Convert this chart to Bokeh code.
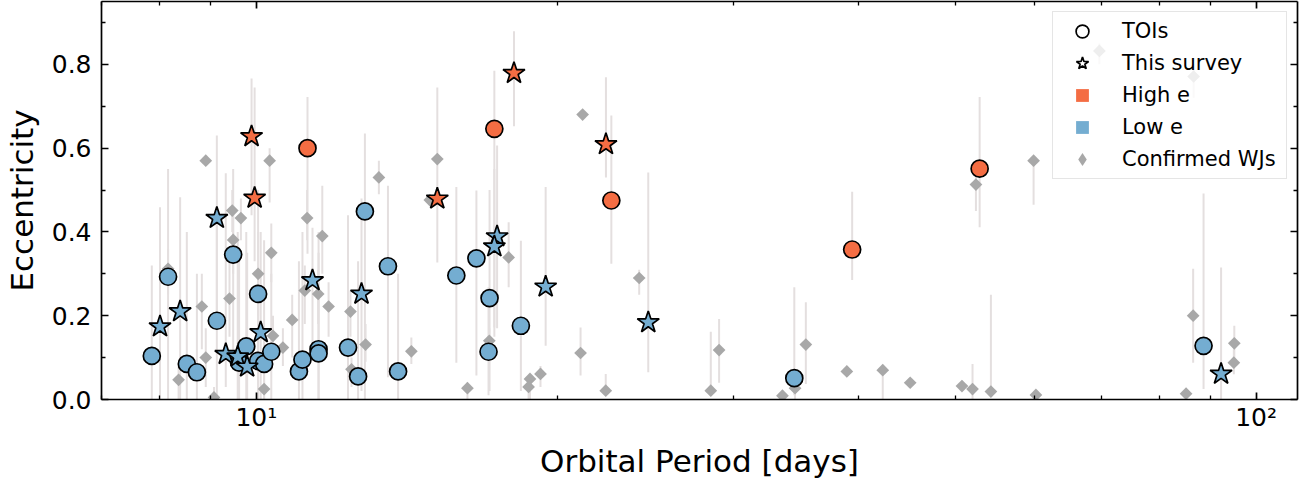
import numpy as np
from bokeh.plotting import figure
from bokeh.models import (LogAxis, LinearAxis, FixedTicker, Legend,
                          LegendItem, CustomJSTickFormatter, Range1d)
from bokeh.embed import file_html
from bokeh.resources import INLINE

# ---------------- data ----------------
# TOIs (circles)
toi_period = [7.86, 8.16, 8.52, 8.72, 9.13, 9.48, 9.77, 9.61, 10.04, 10.04, 10.18, 10.35,
              11.03, 11.12, 11.54, 11.54, 12.35, 12.64, 12.84, 13.54, 13.86, 15.85, 16.60,
              17.11, 17.07, 18.39, 34.52, 88.6,
              11.25, 17.30, 22.65, 39.44, 52.9]
toi_ecc = [0.104, 0.293, 0.085, 0.065, 0.188, 0.346, 0.127, 0.088, 0.252, 0.092, 0.085, 0.114,
           0.067, 0.095, 0.120, 0.110, 0.124, 0.055, 0.449, 0.318, 0.067, 0.296, 0.337,
           0.242, 0.114, 0.176, 0.051, 0.128,
           0.600, 0.646, 0.475, 0.358, 0.551]
toi_lo = [0.0, 0.0, 0.0, 0.0, 0.0, 0.08, 0.0, 0.0, 0.02, 0.0, 0.0, 0.0,
          0.0, 0.0, 0.0, 0.0, 0.0, 0.0, 0.0, 0.053, 0.0, 0.088, 0.057,
          0.02, 0.01, 0.02, 0.01, 0.025,
          0.348, 0.172, 0.324, 0.285, 0.411]
toi_hi = [0.32, 0.55, 0.40, 0.30, 0.45, 0.55, 0.40, 0.35, 0.50, 0.30, 0.38, 0.30,
          0.33, 0.40, 0.40, 0.35, 0.44, 0.33, 0.635, 0.51, 0.30, 0.507, 0.499,
          0.50, 0.268, 0.379, 0.268, 0.492,
          0.722, 0.785, 0.678, 0.496, 0.722]
toi_class = ["low"] * 28 + ["high"] * 5

# This survey (stars)
srv_period = [8.01, 8.39, 9.13, 9.32, 9.58, 9.79, 10.10, 11.38, 12.74, 17.41, 17.30, 19.47,
              24.66, 92.25,
              9.89, 9.96, 15.17, 18.10, 22.37]
srv_ecc = [0.174, 0.210, 0.433, 0.108, 0.102, 0.078, 0.160, 0.284, 0.252, 0.389, 0.365, 0.269,
           0.184, 0.061,
           0.628, 0.481, 0.479, 0.779, 0.609]
srv_lo = [0.0, 0.0, 0.20, 0.03, 0.0, 0.0, 0.0, 0.11, 0.02, 0.17, 0.15, 0.128,
          0.065, 0.0,
          0.44, 0.33, 0.327, 0.652, 0.530]
srv_hi = [0.459, 0.483, 0.63, 0.54, 0.40, 0.35, 0.40, 0.41, 0.48, 0.606, 0.55, 0.507,
          0.542, 0.315,
          0.766, 0.745, 0.745, 0.879, 0.769]
srv_class = ["low"] * 14 + ["high"] * 5

# Confirmed warm Jupiters (diamonds)
wj_period = [8.90, 10.31, 9.46, 9.65, 9.48, 10.35, 11.24, 11.64, 13.26, 10.04, 9.40, 8.82,
             10.86, 11.18, 11.53, 11.81, 12.42, 12.86, 8.90, 8.36, 9.07, 10.18, 10.39, 10.63,
             12.45, 8.16, 15.17, 14.91, 17.88, 14.29, 17.10, 16.26, 18.78, 18.72, 19.24, 21.10,
             22.36, 21.20, 24.15, 28.48, 29.03, 33.59, 34.58, 35.45, 38.96, 42.32, 45.08, 50.79,
             52.04, 54.29, 60.22, 52.45, 59.9, 69.7, 86.6, 86.5, 95.1, 95.0, 85.1]
wj_ecc = [0.570, 0.570, 0.451, 0.433, 0.381, 0.350, 0.433, 0.390, 0.530, 0.300, 0.241, 0.222,
          0.190, 0.260, 0.252, 0.222, 0.210, 0.131, 0.100, 0.047, 0.005, 0.025, 0.152, 0.124,
          0.072, 0.312, 0.574, 0.476, 0.339, 0.115, 0.140, 0.027, 0.049, 0.030, 0.061, 0.111,
          0.021, 0.680, 0.290, 0.021, 0.118, 0.009, 0.027, 0.131, 0.067, 0.070, 0.040, 0.032,
          0.025, 0.019, 0.011, 0.513, 0.570, 0.832, 0.771, 0.200, 0.134, 0.088, 0.014]
wj_lo = [0.570, 0.470, 0.40, 0.38, 0.30, 0.28, 0.38, 0.30, 0.49, 0.20, 0.15, 0.12,
         0.10, 0.18, 0.18, 0.15, 0.15, 0.09, 0.03, 0.0, 0.0, 0.0, 0.10, 0.08,
         0.03, 0.25, 0.574, 0.476, 0.268, 0.085, 0.10, 0.0, 0.0, 0.0, 0.03, 0.057,
         0.013, 0.680, 0.25, 0.014, 0.04, 0.009, 0.0, 0.037, 0.067, 0.0, 0.040, 0.032,
         0.0, 0.013, 0.011, 0.45, 0.465, 0.80, 0.72, 0.088, 0.088, 0.06, 0.014]
wj_hi = [0.570, 0.60, 0.50, 0.48, 0.45, 0.42, 0.50, 0.51, 0.57, 0.40, 0.33, 0.30,
         0.25, 0.32, 0.31, 0.28, 0.26, 0.18, 0.17, 0.08, 0.03, 0.06, 0.20, 0.17,
         0.10, 0.36, 0.574, 0.476, 0.423, 0.148, 0.17, 0.04, 0.06, 0.05, 0.08, 0.172,
         0.061, 0.680, 0.31, 0.162, 0.192, 0.009, 0.03, 0.232, 0.067, 0.07, 0.040, 0.032,
         0.085, 0.25, 0.011, 0.56, 0.57, 0.85, 0.80, 0.312, 0.176, 0.12, 0.014]

x_ticks = [10, 100]
x_tick_labels = ["10\u00b9", "10\u00b2"]
x_minor = [7, 8, 9, 20, 30, 40, 50, 60, 70, 80, 90]
y_ticks = [0.0, 0.2, 0.4, 0.6, 0.8]
y_tick_labels = ["0.0", "0.2", "0.4", "0.6", "0.8"]
y_minor = [0.1, 0.3, 0.5, 0.7, 0.9]

HIGH = "#f46d43"
LOW = "#74add1"
WJ_COLOR = "#a8a8a8"
ERR_COLOR = "#e4dfdf"
FONT = "DejaVu Sans"

# ---------------- figure ----------------
p = figure(width=1305, height=481, x_axis_type="log",
           x_range=Range1d(7, 110), y_range=Range1d(0, 0.950),
           output_backend="svg", toolbar_location=None,
           min_border_left=94, min_border_right=8, min_border_top=1, min_border_bottom=0,
           outline_line_color=None)
p.grid.visible = False

def cols(cls):
    return [HIGH if c == "high" else LOW for c in cls]

# error bars
p.segment(x0=wj_period, y0=wj_lo, x1=wj_period, y1=wj_hi, line_color=ERR_COLOR, line_width=2)
p.segment(x0=toi_period, y0=toi_lo, x1=toi_period, y1=toi_hi, line_color=ERR_COLOR, line_width=2)
p.segment(x0=srv_period, y0=srv_lo, x1=srv_period, y1=srv_hi, line_color=ERR_COLOR, line_width=2)

# confirmed WJs
p.scatter(x=wj_period, y=wj_ecc, marker="square", angle=np.pi / 4, size=9,
          fill_color=WJ_COLOR, line_color=None)

# TOIs
p.scatter(x=toi_period, y=toi_ecc, marker="circle", size=17,
          fill_color=cols(toi_class), line_color="black", line_width=1.7)
# This survey
p.scatter(x=srv_period, y=srv_ecc, marker="star", size=23,
          fill_color=cols(srv_class), line_color="black", line_width=1.7)

# legend proxies (no visible data point)
nan = [np.nan]
r_toi = p.scatter(x=nan, y=nan, marker="circle", fill_color="white",
                  line_color="black", line_width=1.7)
r_srv = p.scatter(x=nan, y=nan, marker="star", fill_color="white",
                  line_color="black", line_width=1.7)
r_high = p.scatter(x=nan, y=nan, marker="square", fill_color=HIGH, line_color=None)
r_low = p.scatter(x=nan, y=nan, marker="square", fill_color=LOW, line_color=None)
r_wj = p.scatter(x=nan, y=nan, marker="diamond", fill_color=WJ_COLOR, line_color=None)

legend = Legend(items=[
    LegendItem(label="TOIs", renderers=[r_toi]),
    LegendItem(label="This survey", renderers=[r_srv]),
    LegendItem(label="High e", renderers=[r_high]),
    LegendItem(label="Low e", renderers=[r_low]),
    LegendItem(label="Confirmed WJs", renderers=[r_wj]),
], location=(951, 220))
legend.label_text_font = FONT
legend.label_text_font_size = "21px"
legend.label_text_color = "black"
legend.glyph_width = 52
legend.glyph_height = 32
legend.label_height = 24
legend.label_width = 161
legend.label_standoff = 14
legend.padding = 3
legend.spacing = 0
legend.margin = 0
legend.border_line_color = "#cccccc"
legend.border_line_width = 1.5
legend.background_fill_color = "white"
legend.background_fill_alpha = 0.8
p.add_layout(legend)

# ---------------- axes ----------------
def style_axis(ax):
    ax.axis_line_color = "black"
    ax.axis_line_width = 1.7
    ax.major_tick_in = 7
    ax.major_tick_out = 0
    ax.minor_tick_in = 4
    ax.minor_tick_out = 0
    ax.major_tick_line_width = 1.7
    ax.minor_tick_line_width = 1.3
    ax.major_tick_line_color = "black"
    ax.minor_tick_line_color = "black"
    ax.major_label_text_font = FONT
    ax.major_label_text_font_size = "25px"
    ax.major_label_text_color = "black"
    ax.axis_label_text_font = FONT
    ax.axis_label_text_font_size = "31px"
    ax.axis_label_text_font_style = "normal"
    ax.axis_label_text_color = "black"

xt = FixedTicker(ticks=x_ticks, minor_ticks=x_minor)
yt = FixedTicker(ticks=y_ticks, minor_ticks=y_minor)

xa = p.xaxis[0]
xa.ticker = xt
xa.major_label_overrides = dict(zip(x_ticks, x_tick_labels))
xa.axis_label = "Orbital Period [days]"
style_axis(xa)
xa.major_label_standoff = 3
xa.axis_label_standoff = 8

ya = p.yaxis[0]
ya.ticker = yt
ya.major_label_overrides = dict(zip(y_ticks, y_tick_labels))
ya.axis_label = "Eccentricity"
style_axis(ya)
ya.major_label_standoff = 10
ya.axis_label_standoff = 9

top = LogAxis(ticker=FixedTicker(ticks=x_ticks, minor_ticks=x_minor),
              formatter=CustomJSTickFormatter(code="return ''"))
style_axis(top)
top.major_label_standoff = 0
top.major_label_text_font_size = "0px"
p.add_layout(top, "above")
right = LinearAxis(ticker=FixedTicker(ticks=y_ticks, minor_ticks=y_minor),
                   formatter=CustomJSTickFormatter(code="return ''"))
style_axis(right)
right.major_label_standoff = 0
right.major_label_text_font_size = "0px"
p.add_layout(right, "right")

open("out.html", "w").write(file_html(p, INLINE))
